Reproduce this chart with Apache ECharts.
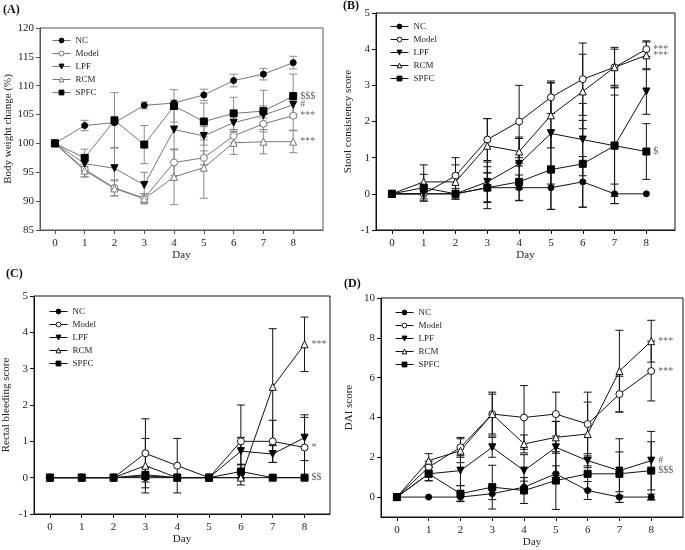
<!DOCTYPE html>
<html><head><meta charset="utf-8">
<script src="https://cdn.jsdelivr.net/npm/echarts@6/dist/echarts.min.js"></script>
<style>html,body{margin:0;padding:0;background:#fff}#c{width:685px;height:550px}</style>
</head><body><div id="c"></div>
<script>
const days = [0,1,2,3,4,5,6,7,8];
const groupNames = ['NC','Model','LPF','RCM','SPFC'];
const dayTicks = [0,1,2,3,4,5,6,7,8];
const yTicksA = [85,90,95,100,105,110,115,120];
const yTicksBC = [-1,0,1,2,3,4,5];
const yTicksD = [0,2,4,6,8,10];

// (A) Body weight change (%)
const bwNC    = [100,103.1,103.6,106.6,107.0,108.4,110.9,112.0,114.0];
const bwNCsd  = [0,0.9,0,0.6,0.5,1.0,1.1,1.0,1.1];
const bwModel = [100,95.5,92.3,90.5,96.7,97.5,101.3,103.4,104.8];
const bwModelsd = [0,1.3,1.4,0.8,2.3,1.2,1.1,1.0,2.5];
const bwLPF   = [100,96.5,95.7,92.8,102.4,101.3,103.6,104.9,106.7];
const bwLPFsd = [0,1.2,3.6,2.2,3.5,1.6,1.6,1.6,1.6];
const bwRCM   = [100,95.3,92.2,90.4,94.2,95.8,100.1,100.3,100.3];
const bwRCMsd = [0,1.1,1.3,0.9,4.8,5.3,2.0,2.1,1.9];
const bwSPFC  = [100,97.5,104.0,99.8,106.5,103.8,105.2,105.6,108.2];
const bwSPFCsd = [0,1.5,4.8,3.3,2.8,3.2,2.8,3.6,3.8];

// (B) Stool consistency score
const scNC    = [0,0,0,0.17,0.17,0.17,0.33,0,0];
const scNCsd  = [0,0.2,0,0.58,0.35,0.6,0.7,0.27,0];
const scModel = [0,0,0.5,1.5,2.0,2.67,3.17,3.5,4.0];
const scModelsd = [0,0,0.5,0.58,1.0,0.45,1.0,0.5,0.2];
const scLPF   = [0,0,0,0.33,0.83,1.67,1.5,1.33,2.83];
const scLPFsd = [0,0,0,0.55,0.7,1.4,1.0,1.4,0.63];
const scRCM   = [0,0.33,0.33,1.33,1.17,2.17,2.83,3.5,3.83];
const scRCMsd = [0,0.47,0.47,0.75,0.4,0.9,1.03,0.55,0.4];
const scSPFC  = [0,0.17,0,0.17,0.33,0.67,0.83,1.33,1.17];
const scSPFCsd = [0,0.37,0.15,0.41,0.52,1.1,1.2,1.6,0.77];

// (C) Rectal bleeding score
const rbNC    = [0,0,0,0,0,0,0,0,0];
const rbNCsd  = [0,0,0,0,0,0,0,0,0];
const rbModel = [0,0,0,0.67,0.33,0,1.0,1.0,0.83];
const rbModelsd = [0,0,0,0.95,0.75,0,1.0,0.58,0.83];
const rbLPF   = [0,0,0,0.08,0,0,0.73,0.65,1.1];
const rbLPFsd = [0,0,0,0.2,0,0,0.38,0.23,0.63];
const rbRCM   = [0,0,0,0.33,0,0,0,2.5,3.67];
const rbRCMsd = [0,0,0,0.75,0,0,0.2,1.6,0.75];
const rbSPFC  = [0,0,0,0.05,0,0,0.17,0,0];
const rbSPFCsd = [0,0,0,0.1,0,0,0.2,0,0];

// (D) DAI score
const daiNC    = [0,0,0,0.17,0.5,1.17,0.33,0,0];
const daiNCsd  = [0,0,0.2,0.3,0.3,0.4,0.45,0.27,0.15];
const daiModel = [0,1.5,2.5,4.17,4.0,4.17,3.67,5.17,6.33];
const daiModelsd = [0,0.3,0.5,1.0,1.6,1.1,1.6,0.9,1.5];
const daiLPF   = [0,1.17,1.33,2.5,1.33,2.5,1.83,1.33,1.83];
const daiLPFsd = [0,0.35,0.75,0.5,0.8,1.3,0.35,1.6,1.47];
const daiRCM   = [0,1.83,2.33,4.17,2.67,3.0,3.17,6.33,7.83];
const daiRCMsd = [0,0.35,0.6,1.1,0.45,0.8,1.6,2.05,1.05];
const daiSPFC  = [0,1.17,0.17,0.5,0.33,0.83,1.17,1.17,1.33];
const daiSPFCsd = [0,0.35,0.4,1.1,0.65,1.45,0.8,1.1,1.45];

const sigA = {SPFC:'$$$', LPF:'#', Model:'***', RCM:'***'};
const sigB = {Model:'***', RCM:'***', SPFC:'$'};
const sigC = {RCM:'***', Model:'*', SPFC:'$$'};
const sigD = {RCM:'***', Model:'***', LPF:'#', SPFC:'$$$'};

const FONT = 'Liberation Serif';

const panels = [
  {label:'(A)', lx:3, ly:4, grid:{left:40,top:28,width:283,height:202}, xmax:9,
   ymin:85, ymax:120, yTicks:yTicksA, yName:'Body weight change (%)', yGap:23, xGap:20,
   legend:{left:52,top:36}, line:'#777', err:'#8a8a8a', axis:'#555', sig:sigA,
   data:[[bwNC,bwNCsd],[bwModel,bwModelsd],[bwLPF,bwLPFsd],[bwRCM,bwRCMsd],[bwSPFC,bwSPFCsd]]},
  {label:'(B)', lx:343, ly:0, grid:{left:376,top:13,width:299,height:217}, xmax:8.9,
   ymin:-1, ymax:5, yTicks:yTicksBC, yName:'Stool consistency score', yGap:22, xGap:16,
   legend:{left:390,top:22}, line:'#111', err:'#111', axis:'#111', sig:sigB,
   data:[[scNC,scNCsd],[scModel,scModelsd],[scLPF,scLPFsd],[scRCM,scRCMsd],[scSPFC,scSPFCsd]]},
  {label:'(C)', lx:6, ly:268, grid:{left:32,top:296,width:298,height:218}, xmax:8.8,
   ymin:-1, ymax:5, yTicks:yTicksBC, yName:'Rectal bleeding score', yGap:22, xGap:16,
   legend:{left:49,top:307}, line:'#111', err:'#111', axis:'#111', sig:sigC,
   data:[[rbNC,rbNCsd],[rbModel,rbModelsd],[rbLPF,rbLPFsd],[rbRCM,rbRCMsd],[rbSPFC,rbSPFCsd]]},
  {label:'(D)', lx:344, ly:278, grid:{left:381,top:298,width:302,height:219}, xmax:9,
   ymin:-1, ymax:10, yTicks:yTicksD, yName:'DAI score', yGap:26, xGap:18,
   legend:{left:395,top:308}, line:'#111', err:'#111', axis:'#111', sig:sigD,
   data:[[daiNC,daiNCsd],[daiModel,daiModelsd],[daiLPF,daiLPFsd],[daiRCM,daiRCMsd],[daiSPFC,daiSPFCsd]]}
];

const symbolDefs = {
  NC:{symbol:'circle', size:6, fill:true, rot:0},
  Model:{symbol:'circle', size:7, fill:false, rot:0},
  LPF:{symbol:'triangle', size:7, fill:true, rot:180},
  RCM:{symbol:'triangle', size:7, fill:false, rot:0},
  SPFC:{symbol:'rect', size:7, fill:true, rot:0}
};

const option = {animation:false, backgroundColor:'#fff', textStyle:{fontFamily:FONT},
  title:[], grid:[], xAxis:[], yAxis:[], legend:[], series:[]};

panels.forEach((p, i) => {
  option.title.push({text:p.label, left:p.lx, top:p.ly, padding:0,
    textStyle:{fontFamily:FONT, fontSize:12, fontWeight:'bold', color:'#111'}});
  option.grid.push(Object.assign({show:true, borderColor:p.axis, borderWidth:1, backgroundColor:'transparent'}, p.grid));
  option.xAxis.push({gridIndex:i, type:'value', min:-0.5, max:p.xmax,
    name:'Day', nameLocation:'middle', nameGap:p.xGap,
    nameTextStyle:{fontFamily:FONT, fontSize:11, color:'#222'},
    axisLine:{show:true, onZero:false, lineStyle:{color:p.axis, width:1}},
    axisTick:{show:true, length:4, customValues:dayTicks, lineStyle:{color:p.axis}},
    axisLabel:{customValues:dayTicks, fontFamily:FONT, fontSize:11, color:'#222', margin:8},
    splitLine:{show:false}});
  option.yAxis.push({gridIndex:i, type:'value', min:p.ymin, max:p.ymax,
    name:p.yName, nameLocation:'middle', nameGap:p.yGap, nameRotate:90,
    nameTextStyle:{fontFamily:FONT, fontSize:11, color:'#222'},
    axisLine:{show:true, onZero:false, lineStyle:{color:p.axis, width:1}},
    axisTick:{show:true, length:4, customValues:p.yTicks, lineStyle:{color:p.axis}},
    axisLabel:{customValues:p.yTicks, fontFamily:FONT, fontSize:11, color:'#222', margin:6},
    splitLine:{show:false}});

  const legendData = [];
  groupNames.forEach((g, k) => {
    const sd = symbolDefs[g];
    const mean = p.data[k][0], err = p.data[k][1];
    const markerColor = sd.fill ? '#000' : '#fff';
    const bColor = sd.fill ? '#000' : p.line;
    const errData = [];
    days.forEach((d, j) => { if (err[j] > 0) errData.push([d, mean[j] - err[j], mean[j] + err[j]]); });
    option.series.push({type:'custom', name:'err'+i+g, xAxisIndex:i, yAxisIndex:i, z:1,
      silent:true, data:errData,
      renderItem:(params, api) => {
        const x = api.value(0);
        const a = api.coord([x, api.value(2)]), b = api.coord([x, api.value(1)]);
        const w = 4;
        const st = {stroke:p.err, lineWidth:1};
        return {type:'group', children:[
          {type:'line', shape:{x1:a[0], y1:a[1], x2:b[0], y2:b[1]}, style:st},
          {type:'line', shape:{x1:a[0]-w, y1:a[1], x2:a[0]+w, y2:a[1]}, style:st},
          {type:'line', shape:{x1:b[0]-w, y1:b[1], x2:b[0]+w, y2:b[1]}, style:st}
        ]};
      }});
    const sig = p.sig[g];
    option.series.push({type:'line', name:g, xAxisIndex:i, yAxisIndex:i, z:3,
      data:days.map((d, j) => [d, mean[j]]),
      symbol:sd.symbol, symbolSize:sd.size, symbolRotate:sd.rot, showAllSymbol:true,
      lineStyle:{color:p.line, width:1},
      itemStyle:{color:markerColor, borderColor:bColor, borderWidth:1},
      endLabel: sig ? {show:true, formatter:sig, color:'#666', fontFamily:FONT, fontSize:10, distance:7} : {show:false}
    });
    legendData.push({name:g,
      itemStyle:{color:markerColor, borderColor:bColor, borderWidth:1},
      lineStyle:{color:p.line, width:1}});
  });
  option.legend.push({orient:'vertical', left:p.legend.left, top:p.legend.top, padding:0,
    itemGap:4, itemWidth:18, itemHeight:6, selectedMode:false,
    data:legendData,
    textStyle:{fontFamily:FONT, fontSize:9, color:'#222', lineHeight:6}});
});

const chart = echarts.init(document.getElementById('c'), null, {renderer:'canvas'});
chart.setOption(option);
</script></body></html>
